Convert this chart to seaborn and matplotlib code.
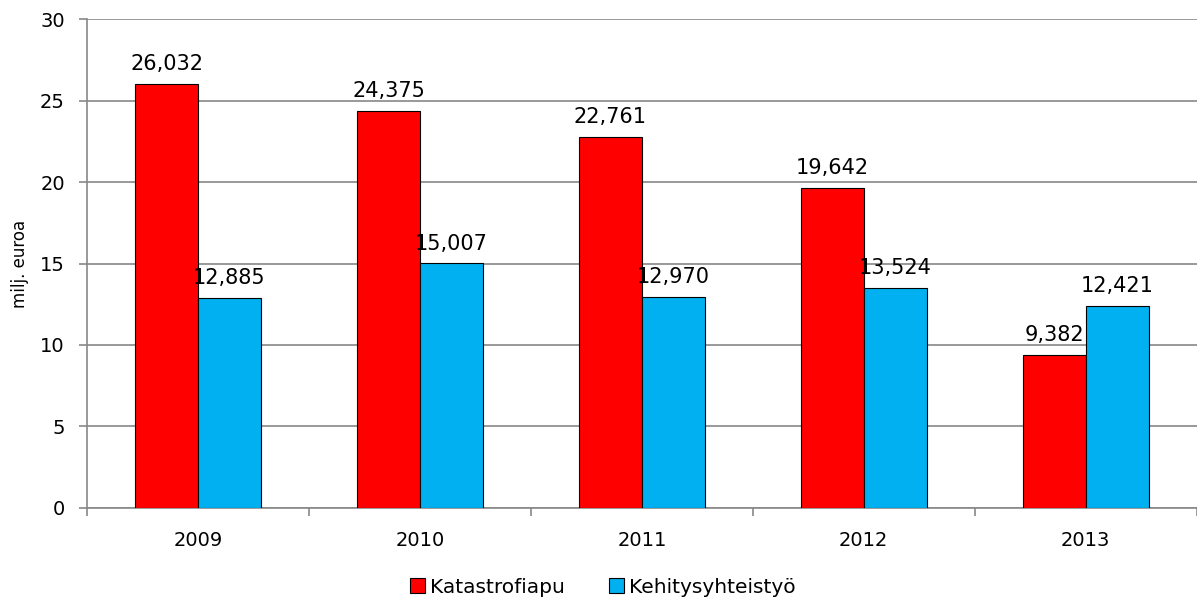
import matplotlib.pyplot as plt
import pandas as pd
import seaborn as sns

# Data (milj. euroa)
years = ["2009", "2010", "2011", "2012", "2013"]
katastrofiapu = [26.032, 24.375, 22.761, 19.642, 9.382]
kehitysyhteistyo = [12.885, 15.007, 12.970, 13.524, 12.421]
series = ["Katastrofiapu", "Kehitysyhteistyö"]
colors = ["#FF0000", "#00B0F0"]

df = pd.DataFrame(
    {
        "year": years * 2,
        "value": katastrofiapu + kehitysyhteistyo,
        "series": [series[0]] * len(years) + [series[1]] * len(years),
    }
)

sns.set_style("white")
plt.rcParams["font.family"] = ["DejaVu Sans"]
plt.rcParams["text.color"] = "black"
plt.rcParams["axes.labelcolor"] = "black"
plt.rcParams["xtick.color"] = "black"
plt.rcParams["ytick.color"] = "black"

fig = plt.figure(figsize=(11.97, 6.01), dpi=100)
ax = fig.add_axes([0.0727, 0.155, 0.927, 0.813])

sns.barplot(
    data=df,
    x="year",
    y="value",
    hue="series",
    hue_order=series,
    palette=colors,
    saturation=1,
    width=0.567,
    edgecolor="black",
    linewidth=0.8,
    ax=ax,
    zorder=3,
)

# data labels with decimal comma
for cont in ax.containers:
    labels = [f"{v:.3f}".replace(".", ",") for v in cont.datavalues]
    ax.bar_label(cont, labels=labels, padding=7, fontsize=15)

ax.set_xlim(-0.5, len(years) - 0.5)
ax.set_ylim(0, 30)
ax.set_yticks(range(0, 31, 5))
ax.yaxis.grid(True, color="#888888", linewidth=1.2, zorder=0)
ax.set_axisbelow(True)
ax.set_xlabel("")
ax.set_ylabel("milj. euroa", fontsize=12, labelpad=8)
ax.tick_params(axis="y", which="major", labelsize=14, length=6, width=1.2,
               color="#888888", left=True, direction="out", pad=10)
ax.tick_params(axis="x", which="major", labelsize=14, length=0, pad=17)
ax.set_xticks([i + 0.5 for i in range(-1, len(years))], minor=True)
ax.tick_params(axis="x", which="minor", length=6, width=1.2, color="#888888",
               bottom=True, direction="out")

for side in ["top", "right"]:
    ax.spines[side].set_visible(False)
for side in ["left", "bottom"]:
    ax.spines[side].set_color("#888888")
    ax.spines[side].set_linewidth(1.2)

leg = ax.legend(
    loc="center",
    bbox_to_anchor=(0.465, -0.162),
    ncol=2,
    frameon=False,
    fontsize=14.5,
    handlelength=0.75,
    handleheight=0.75,
    handletextpad=0.25,
    columnspacing=2.2,
)

fig.savefig("out.png", dpi=100)
